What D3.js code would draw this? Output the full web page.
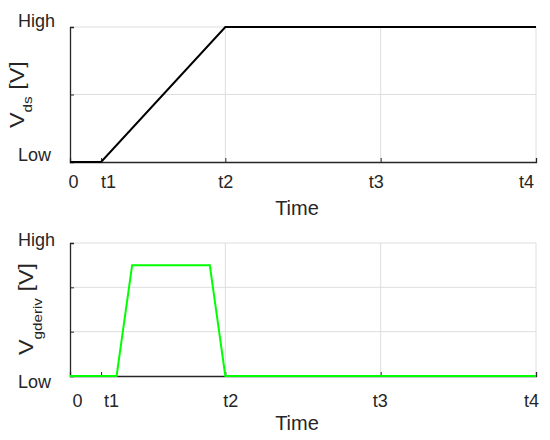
<!DOCTYPE html>
<html>
<head>
<meta charset="utf-8">
<script src="https://cdn.jsdelivr.net/npm/d3@7"></script>
<style>
  html, body { margin: 0; padding: 0; background: #fff; }
  svg { display: block; font-family: "Liberation Sans", Arial, sans-serif; }
</style>
</head>
<body>
<svg id="chart" width="550" height="440"></svg>
<script>
// ---- data ----
const xTickValues = [0, 0.2, 1, 2, 3];
const xTickLabels = ["0", "t1", "t2", "t3", "t4"];
const xGridValues = [1, 2, 3];

const vdsTime = [0, 0.2, 1, 3];
const vdsValues = [0, 0, 2, 2];
const vdsTickValues = [0, 1, 2];
const vdsTickLabels = ["Low", "", "High"];

const vgTime = [0, 0.3, 0.4, 0.9, 1.0, 3];
const vgValues = [0, 0, 2.5, 2.5, 0, 0];
const vgTickValues = [0, 1, 2, 3];
const vgTickLabels = ["Low", "", "", "High"];

// ---- drawing ----
const svg = d3.select("#chart");
const axisColor = "#262626";
const gridColor = "#dedede";

function panel(cfg) {
  const x = d3.scaleLinear().domain([0, 3]).range([70, 536]);
  const y = d3.scaleLinear().domain(cfg.yDomain).range([cfg.bottom, cfg.top]);
  const g = svg.append("g");

  // grid
  g.append("g").selectAll("line").data(cfg.yTicks.slice(1)).join("line")
    .attr("x1", x(0)).attr("x2", x(3))
    .attr("y1", d => y(d)).attr("y2", d => y(d))
    .attr("stroke", gridColor).attr("stroke-width", 1);
  g.append("g").selectAll("line").data(xGridValues).join("line")
    .attr("x1", d => x(d)).attr("x2", d => x(d))
    .attr("y1", y(cfg.yDomain[0])).attr("y2", y(cfg.yDomain[1]))
    .attr("stroke", gridColor).attr("stroke-width", 1);

  // axes
  const xAxis = d3.axisBottom(x).tickValues(xTickValues)
    .tickSize(-4).tickFormat((d, i) => xTickLabels[i]);
  const gx = g.append("g").attr("transform", `translate(0,${cfg.bottom})`).call(xAxis);
  gx.select(".domain").attr("stroke", axisColor).attr("stroke-width", 1.3);
  gx.selectAll(".tick line").attr("stroke", axisColor);
  gx.selectAll(".tick text")
    .attr("fill", axisColor).attr("font-size", 18)
    .attr("y", cfg.xLabelDy).attr("dy", 0)
    .attr("dx", (d, i) => cfg.xLabelDx[i])
    .attr("font-family", "Liberation Sans, Arial, sans-serif");

  const yAxis = d3.axisLeft(y).tickValues(cfg.yTicks)
    .tickSize(-4).tickFormat((d, i) => cfg.yLabels[i]);
  const gy = g.append("g").attr("transform", `translate(70,0)`).call(yAxis);
  gy.select(".domain").attr("stroke", axisColor).attr("stroke-width", 1.3);
  gy.selectAll(".tick line").attr("stroke", axisColor);
  gy.selectAll(".tick text")
    .attr("fill", axisColor).attr("font-size", 18)
    .attr("text-anchor", "start")
    .attr("x", -52)
    .attr("dy", (d, i) => cfg.yLabelDy[i])
    .attr("font-family", "Liberation Sans, Arial, sans-serif");

  // line
  const pts = cfg.t.map((t, i) => [t, cfg.v[i]]);
  g.append("path")
    .datum(pts)
    .attr("fill", "none")
    .attr("stroke", cfg.color)
    .attr("stroke-width", 2)
    .attr("stroke-linejoin", "miter")
    .attr("d", d3.line().x(d => x(d[0])).y(d => y(d[1])));

  // x title
  g.append("text")
    .attr("x", 297).attr("y", cfg.timeY)
    .attr("text-anchor", "middle")
    .attr("font-size", 20).attr("fill", axisColor)
    .text("Time");

  // y title
  const yt = g.append("text")
    .attr("transform", `translate(${cfg.ylabX},${cfg.ylabY}) rotate(-90) scale(1.17,1)`)
    .attr("text-anchor", "start")
    .attr("font-size", 20).attr("fill", axisColor);
  yt.append("tspan").text("V");
  yt.append("tspan").attr("font-size", 13).attr("dy", cfg.subDy).text(cfg.sub);
  yt.append("tspan").attr("dy", -cfg.subDy).text(" [V]");
}

panel({
  top: 27, bottom: 162, yDomain: [0, 2],
  yTicks: vdsTickValues, yLabels: vdsTickLabels, yLabelDy: [-1.5, 0, -0.5],
  xLabelDy: 26, xLabelDx: [3, 7, 0, -5, -10],
  t: vdsTime, v: vdsValues, color: "#000000",
  timeY: 215, ylabX: 24, ylabY: 128, sub: "ds", subDy: 8
});

panel({
  top: 243, bottom: 376, yDomain: [0, 3],
  yTicks: vgTickValues, yLabels: vgTickLabels, yLabelDy: [11.5, 0, 0, 2.5],
  xLabelDy: 31, xLabelDx: [7, 10, 5, -1, -5],
  t: vgTime, v: vgValues, color: "#00ff00",
  timeY: 430, ylabX: 33, ylabY: 355, sub: "gderiv", subDy: 9
});
</script>
</body>
</html>
